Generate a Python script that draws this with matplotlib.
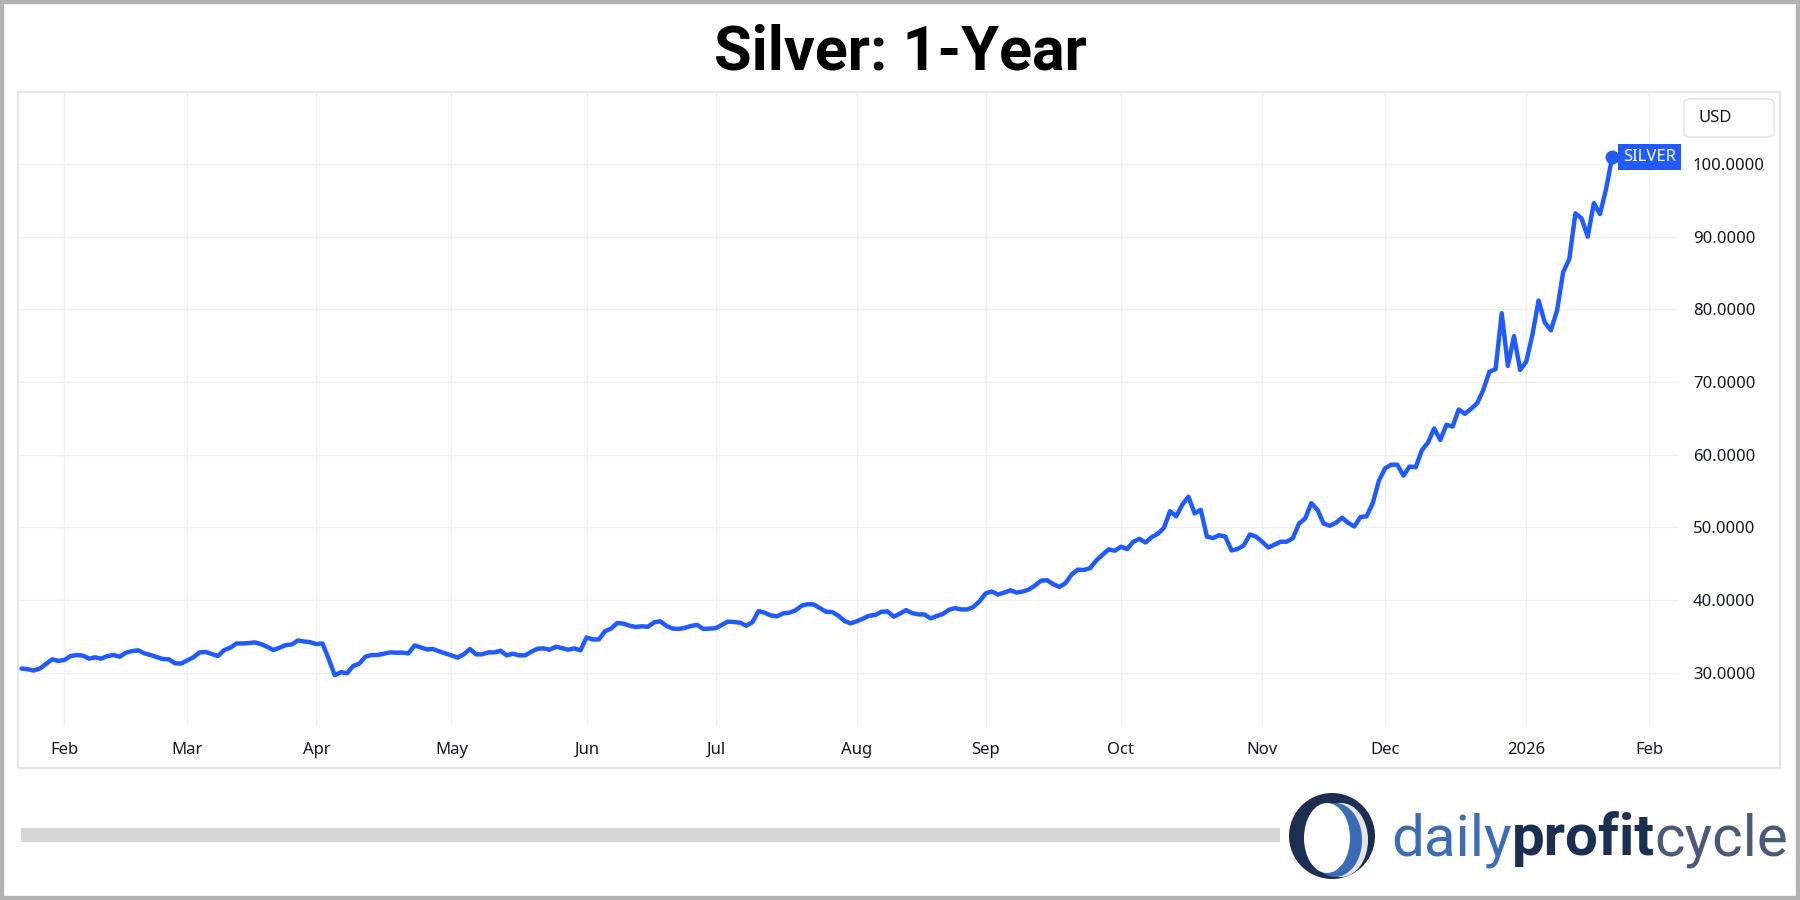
import numpy as np
import pandas as pd
import matplotlib.pyplot as plt
from matplotlib.patches import Rectangle, FancyBboxPatch, Ellipse, Circle

# daily silver close (USD), one value per trading day starting 2025-01-23
start_day = '2025-01-23'
market_holidays = ['2026-01-01', '2026-01-19']
silver_close = [
    30.55, 30.45, 30.27, 30.55, 31.18, 31.82, 31.59, 31.73, 32.27, 32.41,
    32.32, 31.91, 32.09, 31.91, 32.27, 32.41, 32.18, 32.73, 32.95, 33.05,
    32.64, 32.41, 32.14, 31.86, 31.82, 31.27, 31.23, 31.68, 32.09, 32.77,
    32.82, 32.55, 32.27, 33.09, 33.41, 34.00, 34.00, 34.05, 34.14, 33.91,
    33.55, 33.09, 33.41, 33.77, 33.86, 34.41, 34.27, 34.18, 33.91, 34.00,
    31.90, 29.64, 30.05, 29.90, 30.90, 31.23, 32.18, 32.41, 32.41, 32.59,
    32.77, 32.73, 32.73, 32.64, 33.73, 33.45, 33.18, 33.23, 32.91, 32.64,
    32.36, 32.05, 32.50, 33.23, 32.50, 32.50, 32.77, 32.77, 33.00, 32.36,
    32.59, 32.36, 32.36, 32.86, 33.27, 33.32, 33.14, 33.55, 33.36, 33.14,
    33.32, 33.05, 34.82, 34.55, 34.55, 35.68, 36.05, 36.82, 36.73, 36.45,
    36.27, 36.36, 36.30, 36.91, 37.05, 36.41, 36.05, 36.00, 36.14, 36.41,
    36.55, 36.00, 36.05, 36.09, 36.55, 37.00, 36.95, 36.86, 36.45, 36.91,
    38.45, 38.23, 37.86, 37.73, 38.14, 38.23, 38.55, 39.18, 39.41, 39.36,
    38.86, 38.36, 38.32, 37.82, 37.09, 36.77, 37.05, 37.41, 37.82, 37.91,
    38.36, 38.41, 37.68, 38.09, 38.59, 38.18, 38.00, 38.00, 37.45, 37.77,
    38.05, 38.64, 38.86, 38.68, 38.68, 39.04, 39.82, 40.91, 41.14, 40.73,
    41.00, 41.32, 41.00, 41.14, 41.42, 41.96, 42.65, 42.69, 42.15, 41.78,
    42.33, 43.52, 44.16, 44.11, 44.38, 45.43, 46.21, 46.94, 46.76, 47.31,
    46.99, 47.99, 48.40, 47.90, 48.63, 49.09, 49.90, 52.20, 51.50, 53.10,
    54.20, 51.90, 52.40, 48.70, 48.50, 48.90, 48.70, 46.80, 47.00, 47.50,
    49.00, 48.70, 48.00, 47.20, 47.60, 48.00, 48.00, 48.50, 50.50, 51.20,
    53.30, 52.40, 50.50, 50.20, 50.60, 51.30, 50.60, 50.10, 51.40, 51.50,
    53.30, 56.40, 58.10, 58.60, 58.60, 57.10, 58.35, 58.26, 60.60, 61.65,
    63.60, 62.00, 64.10, 63.85, 66.20, 65.60, 66.30, 67.06, 68.90, 71.40,
    71.75, 79.45, 72.20, 76.30, 71.65, 72.80, 76.50, 81.20, 78.20, 77.10,
    79.80, 85.10, 86.90, 93.20, 92.50, 90.00, 94.60, 93.10, 96.60, 101.00,
]
y_ticks = [30, 40, 50, 60, 70, 80, 90, 100]
series_name = 'SILVER'
currency = 'USD'

BLUE = '#1f5bff'
TEXT = '#131722'
GRID = '#eef0f4'

plt.rcParams['font.family'] = ['Noto Sans', 'DejaVu Sans']

W, H = 1800, 900


def fx(px):
    return px / W


def fy(py):
    return 1 - py / H


# trading days on the axis, a bit past the last close so the Feb tick fits
all_days = pd.bdate_range(start_day, '2026-02-06', freq='C', holidays=market_holidays)
x = np.arange(len(silver_close))

month_pos = []
month_lab = []
for i in range(1, len(all_days)):
    if all_days[i].month != all_days[i - 1].month:
        month_pos.append(i)
        if all_days[i].month == 1:
            month_lab.append(str(all_days[i].year))
        else:
            month_lab.append(all_days[i].strftime('%b'))

fig = plt.figure(figsize=(18, 9), dpi=100)
fig.patch.set_facecolor('white')

# outer grey frame and the chart panel
fig.patches.append(Rectangle((0, 0), 1, 1, transform=fig.transFigure, fill=False,
                             edgecolor='#b3b3b3', lw=6))
fig.patches.append(Rectangle((fx(18), fy(768)), fx(1762), 676 / H, transform=fig.transFigure,
                             fill=False, edgecolor='#e6e6e6', lw=1.5))

ax = fig.add_axes([fx(18), fy(727), fx(1660), 635 / H])
ax.set_facecolor('none')
for s in ax.spines.values():
    s.set_visible(False)

ax.plot(x, silver_close, color=BLUE, lw=3.2, solid_joinstyle='round', solid_capstyle='round', zorder=3)
ax.plot(x[-1], silver_close[-1], 'o', ms=9, color=BLUE, zorder=4)
ax.annotate(series_name, xy=(x[-1], silver_close[-1]), xytext=(7.5, 0), textcoords='offset points',
            ha='left', va='center', color='white', fontsize=12, zorder=5,
            bbox=dict(boxstyle='square,pad=0.3', fc=BLUE, ec='none'))

ax.set_xlim(-0.57, 269.7)
ax.set_ylim(22.5, 109.9)

ax.set_yticks(y_ticks)
ax.set_yticklabels([f'{v:.4f}' for v in y_ticks])
ax.yaxis.tick_right()
ax.tick_params(axis='y', length=0, pad=10.8, labelsize=12, labelcolor=TEXT)

ax.set_xticks(month_pos)
ax.set_xticklabels(month_lab)
ax.tick_params(axis='x', length=0, pad=11, labelsize=12, labelcolor=TEXT)
for t in ax.get_xticklabels():
    if t.get_text().isdigit():
        t.set_fontweight('bold')

ax.grid(True, color=GRID, lw=1)
ax.set_axisbelow(True)

# currency box top right
fig.patches.append(FancyBboxPatch((fx(1684), fy(137)), fx(90), 38 / H,
                                  boxstyle='round,pad=0,rounding_size=0.004',
                                  transform=fig.transFigure, fc='white', ec='#e0e3eb', lw=1))
fig.text(fx(1698), fy(118), currency, ha='left', va='center', fontsize=12, color=TEXT)

# title
fig.text(0.5, fy(70), 'Silver: 1-Year', ha='center', va='baseline', fontsize=44,
         fontweight='bold', family='Roboto', color='black')

# footer: grey bar and logo
fig.patches.append(Rectangle((fx(21), fy(842)), fx(1259), 14 / H, transform=fig.transFigure,
                             fc='#d4d4d4', ec='none'))

lax = fig.add_axes([0, 0, 1, 1], zorder=-1)
lax.set_xlim(0, W)
lax.set_ylim(H, 0)
lax.axis('off')
lax.add_patch(Circle((1332, 836), 43, fc='#1c2f52', ec='none'))
lax.add_patch(Ellipse((1341, 840), 54, 74, fc='#e4e4e4', ec='none'))
lax.add_patch(Ellipse((1335, 840), 54, 74, fc='#3a6bb5', ec='none'))
lax.add_patch(Ellipse((1327, 838), 46, 70, fc='white', ec='none'))

fig.canvas.draw()
rend = fig.canvas.get_renderer()
xpos = 1391
for word, col, wt in [('daily', '#3b6cb7', 'normal'), ('profit', '#1b2f52', 'bold'),
                      ('cycle', '#4b5a78', 'normal')]:
    t = fig.text(fx(xpos), fy(855), word, ha='left', va='baseline', fontsize=42,
                 fontweight=wt, family='Roboto', color=col)
    bb = t.get_window_extent(renderer=rend)
    xpos += bb.width

fig.savefig('out.png', dpi=100)
